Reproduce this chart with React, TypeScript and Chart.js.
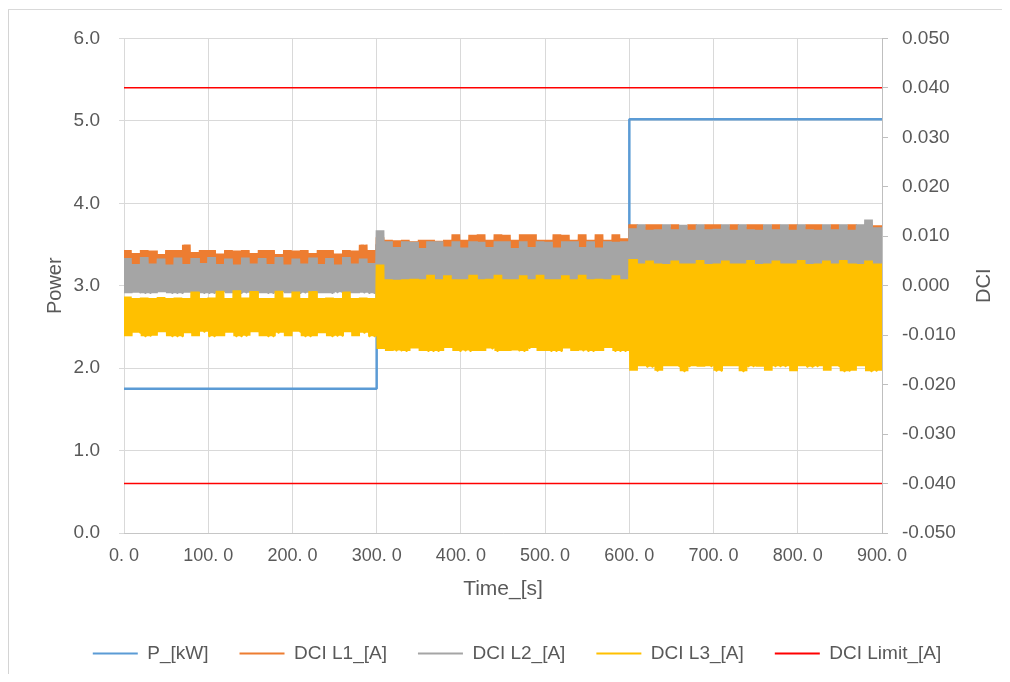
import React, { useEffect, useRef } from "react";
import { Chart, registerables } from "chart.js";

Chart.register(...registerables);

const FONT = "'Liberation Sans', Arial, sans-serif";
const TEXT_COLOR = "#595959";

// ---- Data ----
const xTickLabels = ["0. 0", "100. 0", "200. 0", "300. 0", "400. 0", "500. 0", "600. 0", "700. 0", "800. 0", "900. 0"];
const powerTickLabels = ["0.0", "1.0", "2.0", "3.0", "4.0", "5.0", "6.0"];
const dciTickLabels = ["-0.050", "-0.040", "-0.030", "-0.020", "-0.010", "0.000", "0.010", "0.020", "0.030", "0.040", "0.050"];

// P_[kW] (step series)
const powerTime = [0, 300, 600, 900];
const powerKW = [1.75, 3.5, 5.02, 5.02];

// DCI Limit_[A]
const limitTime = [0, 900];
const limitHigh = [0.04, 0.04];
const limitLow = [-0.04, -0.04];

// DCI noise envelopes, one value per 10 s block (90 blocks: 0-300, 300-600, 600-900 s)
const l1High = [
  0.0072, 0.0066, 0.0072, 0.0071, 0.0064, 0.0072, 0.0072, 0.0083, 0.0068, 0.0072, 0.0072, 0.0065, 0.0072, 0.0071, 0.0072, 0.0066, 0.0072, 0.0072, 0.0064, 0.0072, 0.0071, 0.0072, 0.0066, 0.0072, 0.0072, 0.0065, 0.0072, 0.0071, 0.0083, 0.0072,
  0.0098, 0.0093, 0.0092, 0.0093, 0.0090, 0.0093, 0.0093, 0.0091, 0.0093, 0.0104, 0.0093, 0.0103, 0.0104, 0.0093, 0.0104, 0.0103, 0.0093, 0.0104, 0.0104, 0.0093, 0.0093, 0.0104, 0.0103, 0.0093, 0.0104, 0.0093, 0.0104, 0.0093, 0.0104, 0.0096,
  0.0124, 0.0119, 0.0124, 0.0124, 0.0118, 0.0124, 0.0120, 0.0124, 0.0118, 0.0124, 0.0124, 0.0119, 0.0124, 0.0118, 0.0124, 0.0124, 0.0120, 0.0124, 0.0118, 0.0124, 0.0119, 0.0124, 0.0124, 0.0118, 0.0124, 0.0120, 0.0124, 0.0118, 0.0124, 0.0122,
];
const l1Low = [
  0.0010, 0.0011, 0.0010, 0.0009, 0.0010, 0.0010, 0.0011, 0.0010, 0.0010, 0.0009, 0.0010, 0.0010, 0.0011, 0.0010, 0.0010, 0.0009, 0.0010, 0.0010, 0.0011, 0.0010, 0.0010, 0.0009, 0.0010, 0.0010, 0.0011, 0.0010, 0.0010, 0.0009, 0.0010, 0.0010,
  0.0040, 0.0041, 0.0040, 0.0039, 0.0040, 0.0040, 0.0041, 0.0040, 0.0040, 0.0039, 0.0040, 0.0040, 0.0041, 0.0040, 0.0040, 0.0039, 0.0040, 0.0040, 0.0041, 0.0040, 0.0040, 0.0039, 0.0040, 0.0040, 0.0041, 0.0040, 0.0040, 0.0039, 0.0040, 0.0040,
  0.0075, 0.0076, 0.0075, 0.0074, 0.0075, 0.0075, 0.0076, 0.0075, 0.0075, 0.0074, 0.0075, 0.0075, 0.0076, 0.0075, 0.0075, 0.0074, 0.0075, 0.0075, 0.0076, 0.0075, 0.0075, 0.0074, 0.0075, 0.0075, 0.0076, 0.0075, 0.0075, 0.0074, 0.0075, 0.0075,
];
const l2High = [
  0.0056, 0.0044, 0.0058, 0.0045, 0.0055, 0.0043, 0.0057, 0.0044, 0.0056, 0.0046, 0.0058, 0.0044, 0.0055, 0.0043, 0.0057, 0.0045, 0.0056, 0.0044, 0.0058, 0.0043, 0.0055, 0.0045, 0.0057, 0.0044, 0.0056, 0.0043, 0.0058, 0.0045, 0.0055, 0.0046,
  0.0112, 0.0090, 0.0078, 0.0090, 0.0089, 0.0076, 0.0090, 0.0090, 0.0079, 0.0090, 0.0077, 0.0090, 0.0089, 0.0078, 0.0090, 0.0090, 0.0076, 0.0090, 0.0078, 0.0090, 0.0089, 0.0077, 0.0090, 0.0090, 0.0078, 0.0090, 0.0077, 0.0090, 0.0089, 0.0090,
  0.0116, 0.0124, 0.0113, 0.0114, 0.0124, 0.0114, 0.0123, 0.0113, 0.0124, 0.0114, 0.0115, 0.0124, 0.0113, 0.0124, 0.0114, 0.0113, 0.0124, 0.0114, 0.0124, 0.0113, 0.0124, 0.0114, 0.0113, 0.0124, 0.0114, 0.0124, 0.0113, 0.0124, 0.0134, 0.0118,
];
const l2Low = [
  -0.0015, -0.0014, -0.0015, -0.0015, -0.0013, -0.0015, -0.0015, -0.0014, -0.0015, -0.0015, -0.0015, -0.0013, -0.0015, -0.0015, -0.0014, -0.0015, -0.0015, -0.0015, -0.0013, -0.0015, -0.0015, -0.0014, -0.0015, -0.0015, -0.0015, -0.0013, -0.0015, -0.0015, -0.0014, -0.0015,
  -0.0030, -0.0031, -0.0030, -0.0029, -0.0030, -0.0030, -0.0031, -0.0030, -0.0030, -0.0029, -0.0030, -0.0030, -0.0031, -0.0030, -0.0030, -0.0029, -0.0030, -0.0030, -0.0031, -0.0030, -0.0030, -0.0029, -0.0030, -0.0030, -0.0031, -0.0030, -0.0030, -0.0029, -0.0030, -0.0030,
  0.0020, 0.0021, 0.0020, 0.0019, 0.0020, 0.0020, 0.0021, 0.0020, 0.0020, 0.0019, 0.0020, 0.0020, 0.0021, 0.0020, 0.0020, 0.0019, 0.0020, 0.0020, 0.0021, 0.0020, 0.0020, 0.0019, 0.0020, 0.0020, 0.0021, 0.0020, 0.0020, 0.0019, 0.0020, 0.0020,
];
const l3High = [
  -0.0022, -0.0025, -0.0024, -0.0025, -0.0023, -0.0025, -0.0024, -0.0025, -0.0012, -0.0025, -0.0024, -0.0010, -0.0025, -0.0009, -0.0024, -0.0011, -0.0025, -0.0025, -0.0010, -0.0024, -0.0012, -0.0025, -0.0011, -0.0025, -0.0024, -0.0025, -0.0012, -0.0025, -0.0024, -0.0025,
  0.0043, 0.0013, 0.0012, 0.0013, 0.0014, 0.0013, 0.0022, 0.0013, 0.0021, 0.0013, 0.0013, 0.0022, 0.0013, 0.0014, 0.0022, 0.0013, 0.0013, 0.0021, 0.0013, 0.0022, 0.0013, 0.0013, 0.0021, 0.0013, 0.0022, 0.0013, 0.0014, 0.0013, 0.0021, 0.0013,
  0.0054, 0.0045, 0.0051, 0.0045, 0.0044, 0.0051, 0.0045, 0.0045, 0.0052, 0.0044, 0.0045, 0.0051, 0.0045, 0.0045, 0.0052, 0.0044, 0.0045, 0.0051, 0.0045, 0.0045, 0.0052, 0.0044, 0.0045, 0.0051, 0.0045, 0.0052, 0.0045, 0.0044, 0.0051, 0.0045,
];
const l3Low = [
  -0.0102, -0.0095, -0.0102, -0.0101, -0.0094, -0.0102, -0.0102, -0.0096, -0.0102, -0.0093, -0.0102, -0.0102, -0.0095, -0.0102, -0.0101, -0.0094, -0.0102, -0.0102, -0.0095, -0.0102, -0.0093, -0.0102, -0.0102, -0.0096, -0.0102, -0.0101, -0.0094, -0.0102, -0.0095, -0.0102,
  -0.0128, -0.0132, -0.0131, -0.0132, -0.0127, -0.0132, -0.0132, -0.0132, -0.0126, -0.0132, -0.0131, -0.0132, -0.0132, -0.0127, -0.0132, -0.0132, -0.0131, -0.0132, -0.0126, -0.0132, -0.0132, -0.0132, -0.0127, -0.0132, -0.0131, -0.0132, -0.0132, -0.0126, -0.0132, -0.0132,
  -0.0172, -0.0163, -0.0164, -0.0172, -0.0163, -0.0163, -0.0173, -0.0163, -0.0164, -0.0163, -0.0172, -0.0163, -0.0163, -0.0173, -0.0163, -0.0164, -0.0172, -0.0163, -0.0163, -0.0173, -0.0163, -0.0164, -0.0163, -0.0172, -0.0163, -0.0173, -0.0172, -0.0163, -0.0173, -0.0172,
];

const BLOCK_SECONDS = 10;
const SAMPLE_SECONDS = 1;
const END_TIME = 900;

// Noisy DCI signal: samples swing between the block's high and low readings.
function bandSeries(high: number[], low: number[]) {
  const pts: { x: number; y: number }[] = [];
  for (let t = 0, k = 0; t <= END_TIME; t += SAMPLE_SECONDS, k++) {
    const b = Math.min(high.length - 1, Math.floor(t / BLOCK_SECONDS));
    pts.push({ x: t, y: k % 2 === 0 ? high[b] : low[b] });
  }
  return pts;
}

const pairs = (xs: number[], ys: number[]) => xs.map((x, i) => ({ x, y: ys[i] }));

const dciTitlePlugin = {
  id: "dciTitle",
  afterDraw(chart: any) {
    const ctx = chart.ctx;
    const s = chart.scales.y1;
    const area = chart.chartArea;
    ctx.save();
    ctx.translate(s.right - 18, (area.top + area.bottom) / 2);
    ctx.rotate(-Math.PI / 2);
    ctx.font = `20px ${FONT}`;
    ctx.fillStyle = TEXT_COLOR;
    ctx.textAlign = "center";
    ctx.textBaseline = "middle";
    ctx.fillText("DCI", 0, 0);
    ctx.restore();
  },
};

export default function App() {
  const ref = useRef<HTMLCanvasElement>(null);

  useEffect(() => {
    if (!ref.current) return;
    Chart.defaults.font.family = FONT;
    Chart.defaults.color = TEXT_COLOR;

    const lineBase = { pointRadius: 0, pointHoverRadius: 0, tension: 0, borderJoinStyle: "bevel" as const };

    const chart = new Chart(ref.current, {
      type: "line",
      data: {
        datasets: [
          { ...lineBase, label: "P_[kW]", data: pairs(powerTime, powerKW), yAxisID: "y", borderColor: "#5B9BD5", backgroundColor: "#5B9BD5", borderWidth: 2.5, stepped: "before", order: 5 },
          { ...lineBase, label: "DCI L1_[A]", data: bandSeries(l1High, l1Low), yAxisID: "y1", borderColor: "#ED7D31", backgroundColor: "#ED7D31", borderWidth: 2, order: 4 },
          { ...lineBase, label: "DCI L2_[A]", data: bandSeries(l2High, l2Low), yAxisID: "y1", borderColor: "#A5A5A5", backgroundColor: "#A5A5A5", borderWidth: 2, order: 3 },
          { ...lineBase, label: "DCI L3_[A]", data: bandSeries(l3High, l3Low), yAxisID: "y1", borderColor: "#FFC000", backgroundColor: "#FFC000", borderWidth: 2, order: 2 },
          { ...lineBase, label: "DCI Limit_[A]", data: pairs(limitTime, limitHigh), yAxisID: "y1", borderColor: "#FF0000", backgroundColor: "#FF0000", borderWidth: 1.5, order: 1 },
          { ...lineBase, label: "DCI Limit_[A] (low)", data: pairs(limitTime, limitLow), yAxisID: "y1", borderColor: "#FF0000", backgroundColor: "#FF0000", borderWidth: 1.5, order: 1 },
        ],
      },
      options: {
        responsive: false,
        animation: false,
        devicePixelRatio: 1,
        layout: { padding: { left: 24, right: 0, top: 29, bottom: 1 } },
        plugins: {
          tooltip: { enabled: false },
          legend: {
            position: "bottom",
            labels: {
              font: { size: 19, family: FONT },
              color: TEXT_COLOR,
              boxWidth: 45,
              boxHeight: 2,
              padding: 31,
              generateLabels: (c: any) =>
                (Chart.defaults.plugins.legend.labels as any)
                  .generateLabels(c)
                  .map((l: any) => ({ ...l, lineWidth: 0, fillStyle: l.strokeStyle })),
              filter: (item: any) => item.datasetIndex !== 5,
              sort: (a: any, b: any) => a.datasetIndex - b.datasetIndex,
            },
          },
        },
        scales: {
          x: {
            type: "linear",
            min: 0,
            max: 900,
            ticks: {
              stepSize: 100,
              autoSkip: false,
              maxRotation: 0,
              padding: 12,
              font: { size: 18, family: FONT },
              color: TEXT_COLOR,
              callback: (v: any) => xTickLabels[Math.round(Number(v) / 100)] ?? "",
            },
            grid: { color: "#d9d9d9", drawTicks: false },
            border: { color: "#c6c6c6" },
            title: { display: true, text: "Time_[s]", font: { size: 21, family: FONT }, color: TEXT_COLOR, padding: { top: 0, bottom: 11 } },
            afterFit: (s: any) => { s.height = 80; },
          },
          y: {
            position: "left",
            min: 0,
            max: 6,
            ticks: {
              stepSize: 1,
              padding: 19,
              font: { size: 19, family: FONT },
              color: TEXT_COLOR,
              callback: (v: any) => powerTickLabels[Math.round(Number(v))] ?? "",
            },
            grid: { color: "#d9d9d9", tickLength: 5 },
            border: { display: false },
            title: { display: true, text: "Power", font: { size: 20, family: FONT }, color: TEXT_COLOR, padding: { top: 11, bottom: 0 } },
            afterFit: (s: any) => { s.width = 92; },
          },
          y1: {
            position: "right",
            min: -0.05,
            max: 0.05,
            ticks: {
              stepSize: 0.01,
              padding: 14,
              font: { size: 19, family: FONT },
              color: TEXT_COLOR,
              callback: (v: any) => dciTickLabels[Math.round((Number(v) + 0.05) / 0.01)] ?? "",
            },
            grid: { drawOnChartArea: false, color: "#bfbfbf", tickLength: 6 },
            border: { color: "#bfbfbf" },
            afterFit: (s: any) => { s.width = 120; },
          },
        },
      } as any,
      plugins: [dciTitlePlugin],
    });
    return () => chart.destroy();
  }, []);

  return (
    <div style={{ position: "relative", width: 994, height: 666 }}>
      <canvas ref={ref} width={994} height={666} style={{ display: "block", width: 994, height: 666 }} />
      <div style={{ position: "absolute", left: -1, top: 1, width: 2, height: 673, background: "#d4d4d4" }} />
      <div style={{ position: "absolute", left: -1, top: 1, width: 1003, height: 1, background: "#d9d9d9" }} />
    </div>
  );
}
